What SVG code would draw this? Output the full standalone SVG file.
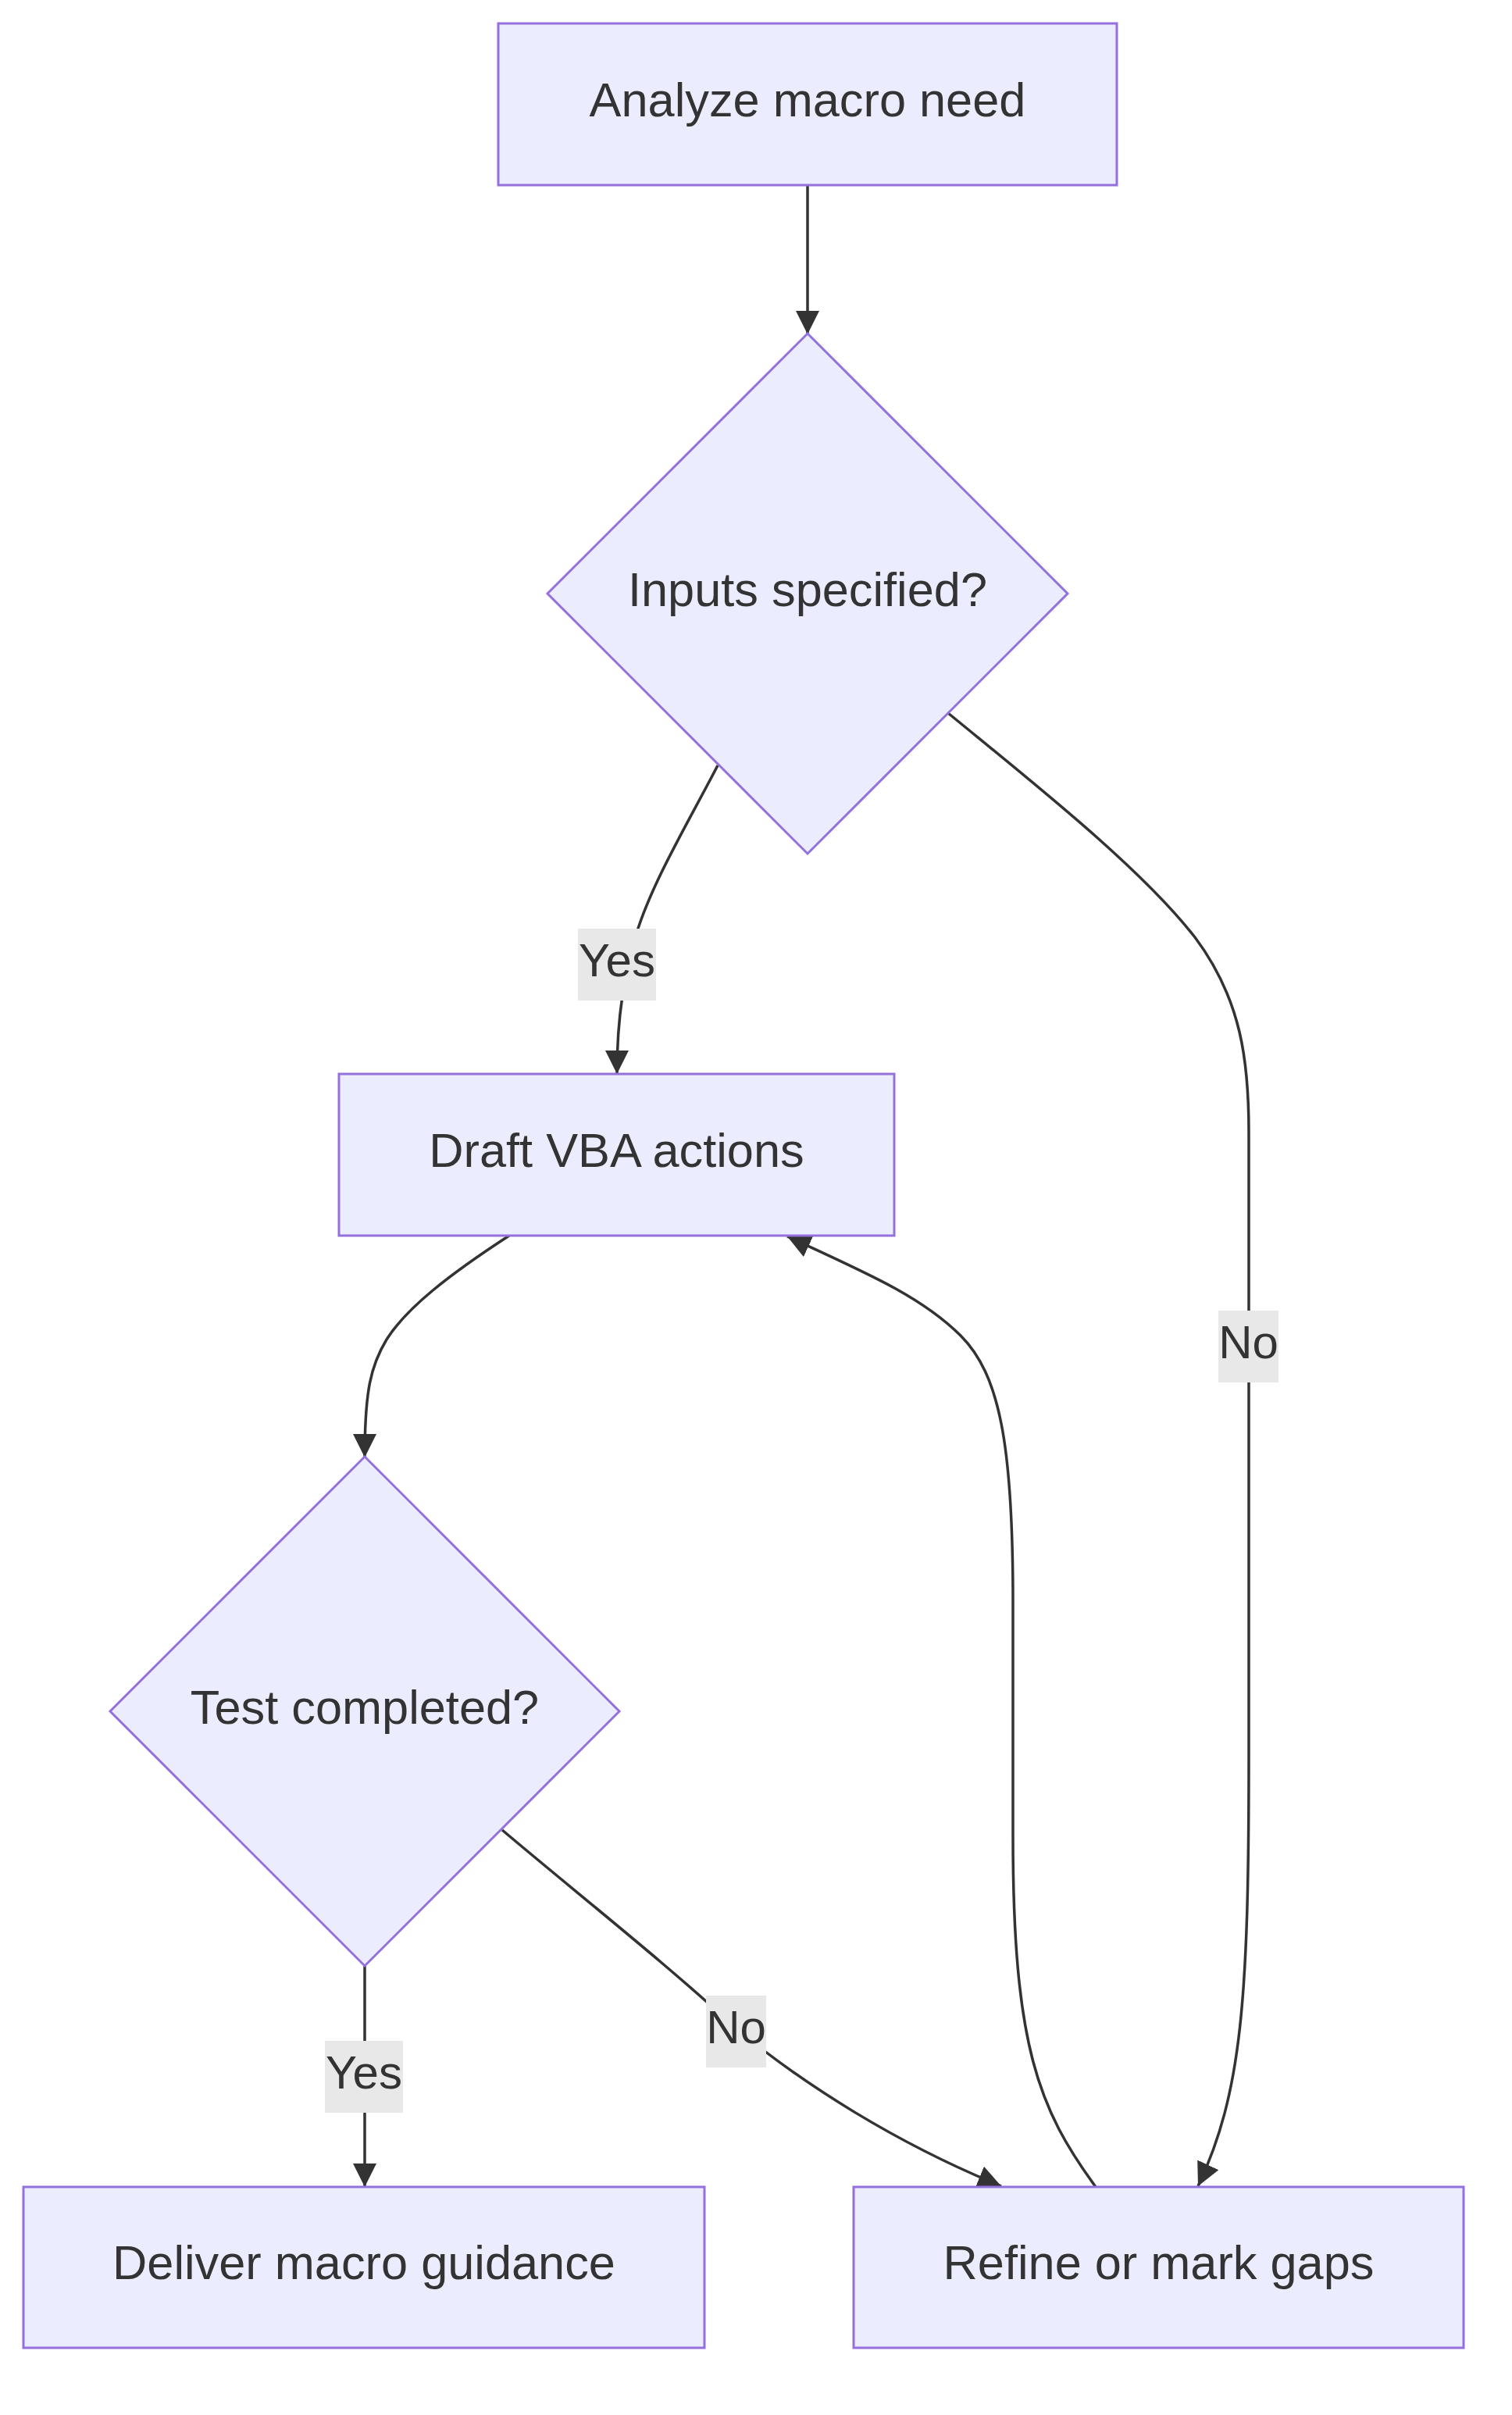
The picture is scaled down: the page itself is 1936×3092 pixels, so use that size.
<svg xmlns="http://www.w3.org/2000/svg" width="1936" height="3092" viewBox="0 0 1936 3092">
<style>
.node rect,.node polygon{fill:#ECECFF;stroke:#9370DB;stroke-width:3}
.node text{font-family:"Liberation Sans",Arial,sans-serif;font-size:61.3px;fill:#333;text-anchor:middle}
.edge{fill:none;stroke:#333;stroke-width:3.5}
.lbl rect{fill:#e8e8e8}
.lbl text{font-family:"Liberation Sans",Arial,sans-serif;font-size:60px;fill:#333;text-anchor:middle}
</style>
<defs>
<marker id="arr" viewBox="0 0 10 10" refX="10" refY="5" markerUnits="userSpaceOnUse" markerWidth="30" markerHeight="32" orient="auto">
<path d="M0,0 L10,5 L0,10 z" fill="#333"/>
</marker>
</defs>
<rect width="1936" height="3092" fill="#fff"/>
<g id="connectors">
<path class="edge" d="M1034,237 L1034,428" marker-end="url(#arr)"/>
<path class="edge" d="M919,980 C880,1055 835,1130 815,1195 C800,1245 790,1300 790,1375" marker-end="url(#arr)"/>
<path class="edge" d="M1214,913 C1320,1000 1460,1110 1530,1200 C1590,1280 1599,1360 1599,1450 L1599,2250 C1599,2560 1590,2680 1534,2799" marker-end="url(#arr)"/>
<path class="edge" d="M652,1582 C575,1632 520,1675 495,1715 C475,1748 467,1780 467,1866" marker-end="url(#arr)"/>
<path class="edge" d="M1403,2800 C1330,2700 1297,2620 1297,2350 L1297,2050 C1297,1850 1280,1760 1230,1710 C1180,1660 1110,1630 1008,1583" marker-end="url(#arr)"/>
<path class="edge" d="M467,2516 L467,2800" marker-end="url(#arr)"/>
<path class="edge" d="M643,2343 C740,2425 860,2520 940,2595 C1030,2670 1150,2745 1282,2799" marker-end="url(#arr)"/>
<g class="lbl"><rect x="740" y="1189" width="100" height="92"/><text x="790" y="1250">Yes</text></g>
<g class="lbl"><rect x="1560" y="1678" width="77" height="92"/><text x="1598.5" y="1739">No</text></g>
<g class="lbl"><rect x="416" y="2613" width="100" height="92"/><text x="466" y="2674">Yes</text></g>
<g class="lbl"><rect x="904" y="2555" width="77" height="92"/><text x="942.5" y="2616">No</text></g>
</g>
<g id="nodeA" class="node"><rect x="638" y="30" width="792" height="207"/><text x="1034" y="149">Analyze macro need</text></g>
<g id="nodeB" class="node"><polygon points="1034,427 1367,760 1034,1093 701,760"/><text x="1034" y="776">Inputs specified?</text></g>
<g id="nodeC" class="node"><rect x="434" y="1375" width="711" height="207"/><text x="789.5" y="1494">Draft VBA actions</text></g>
<g id="nodeD" class="node"><polygon points="467,1865 793,2191 467,2517 141,2191"/><text x="467" y="2207">Test completed?</text></g>
<g id="nodeE" class="node"><rect x="30" y="2800" width="872" height="206"/><text x="466" y="2918">Deliver macro guidance</text></g>
<g id="nodeF" class="node"><rect x="1093" y="2800" width="781" height="206"/><text x="1483.5" y="2918">Refine or mark gaps</text></g>
</svg>
